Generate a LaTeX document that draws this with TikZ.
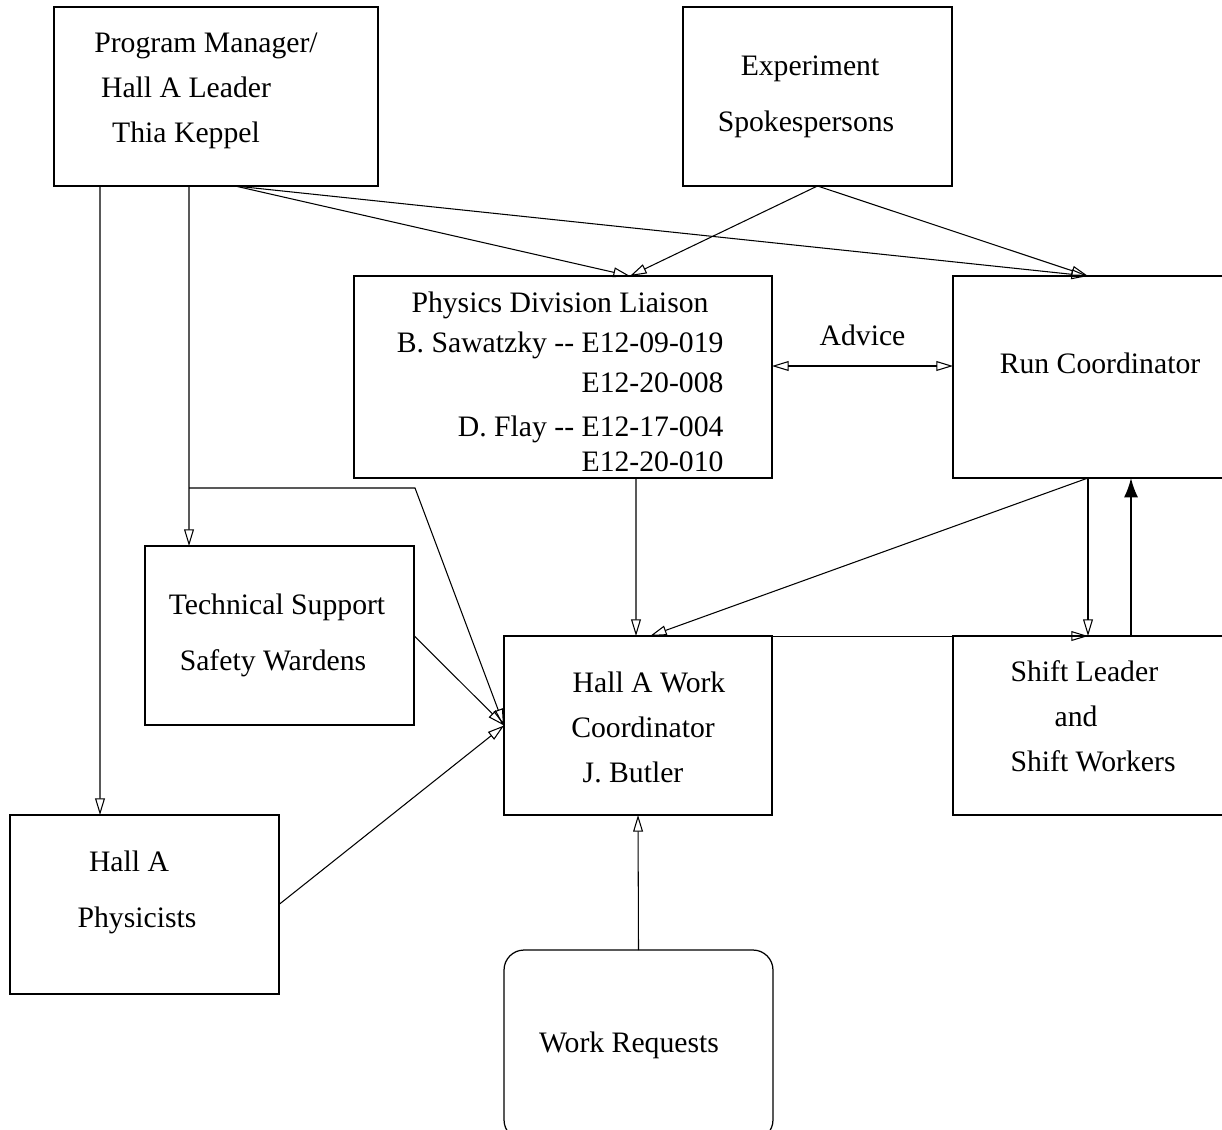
\documentclass[tikz,border=0pt]{standalone}
\usepackage{fontspec}
\setmainfont{Liberation Serif}
\usetikzlibrary{positioning}
\usetikzlibrary{arrows.meta}

\begin{document}
\begin{tikzpicture}[x=0.02cm,y=-0.02cm,font=\fontsize{16.9}{20}\selectfont,line width=0.6pt,
	>={Triangle[open,length=9.5pt,width=5.6pt]},
	box/.style={draw=black,rectangle,outer sep=0pt,inner sep=0pt,line width=0.7pt},
	txt/.style={inner sep=0pt,text height=11.2pt,text depth=0pt}]
	\clip (0,0) rectangle (1222,1129);
	\fill [white] (0,0) rectangle (1222,1129);

	% boxes
	\node [box,minimum width=6.48cm,minimum height=3.58cm] at (216,96.5) (pm) {};
	\node [box,minimum width=5.38cm,minimum height=3.58cm] at (817.5,96.5) (exp) {};
	\node [box,minimum width=8.36cm,minimum height=4.04cm] at (563,377) (liaison) {};
	\node [box,minimum width=5.54cm,minimum height=4.04cm] at (1091.5,377) (runc) {};
	\node [box,minimum width=5.38cm,minimum height=3.58cm] at (279.5,635.5) (tech) {};
	\node [box,minimum width=5.36cm,minimum height=3.58cm] at (638,725.5) (hallwc) {};
	\node [box,minimum width=5.54cm,minimum height=3.58cm] at (1091.5,725.5) (shift) {};
	\node [box,minimum width=5.38cm,minimum height=3.58cm] at (144.5,904.5) (phys) {};
	\node [box,rounded corners=0.4cm,minimum width=5.38cm,minimum height=3.8cm] at (638.5,1045) (workreq) {};

	% texts
	\node [txt] at (206,43) (pm_a) {Program Manager/};
	\node [txt] at (186,88) (pm_b) {Hall A Leader};
	\node [txt] at (186,133) (pm_c) {Thia Keppel};
	\node [txt] at (810,66) (exp_a) {Experiment};
	\node [txt] at (806,122) (exp_b) {Spokespersons};
	\node [txt] at (560,303) (liaison_a) {Physics Division Liaison};
	\node [txt,anchor=east] at (724,343) (liaison_b) {B. Sawatzky -{}- E12-09-019};
	\node [txt,anchor=east] at (724,383) (liaison_c) {E12-20-008};
	\node [txt,anchor=east] at (724,427) (liaison_d) {D. Flay -{}- E12-17-004};
	\node [txt,anchor=east] at (724,462) (liaison_e) {E12-20-010};
	\node [txt] at (1100,364) (runc_a) {Run Coordinator};
	\node [txt] at (277,605) (tech_a) {Technical Support};
	\node [txt] at (273,661) (tech_b) {Safety Wardens};
	\node [txt] at (649,683) (hallwc_a) {Hall A Work};
	\node [txt] at (643,728) (hallwc_b) {Coordinator};
	\node [txt] at (633,773) (hallwc_c) {J. Butler};
	\node [txt,anchor=west] at (1010,672) (shift_a) {Shift Leader};
	\node [txt] at (1076,717) (shift_b) {and};
	\node [txt,anchor=west] at (1010,762) (shift_c) {Shift Workers};
	\node [txt] at (129,862) (phys_a) {Hall A};
	\node [txt] at (137,918) (phys_b) {Physicists};
	\node [txt] at (629,1043) (workreq_a) {Work Requests};

	% connectors
	\draw [->] ([xshift=0.92cm]pm.south west) -- ([xshift=1.8cm]phys.north west);
	\draw [->] ([xshift=2.7cm]pm.south west) -- ([xshift=0.88cm]tech.north west);
	\draw [->] ([xshift=2.7cm]pm.south west) ++(0,302) -- ++(226,0) -- (hallwc.west);
	\draw [->] ([xshift=3.62cm]pm.south west) -- ([xshift=5.52cm]liaison.north west);
	\draw [->] ([xshift=3.62cm]pm.south west) -- ([xshift=2.7cm]runc.north west);
	\draw [->] (exp.south) -- ([xshift=5.52cm]liaison.north west);
	\draw [->] (exp.south) -- ([xshift=2.7cm]runc.north west);
	\draw [<->] ([yshift=0.22cm]liaison.east) -- node[midway,yshift=0.62cm] (advice) {Advice} ([yshift=0.22cm]runc.west);
	\draw [->] ([xshift=5.64cm]liaison.south west) -- ([xshift=2.64cm]hallwc.north west);
	\draw [->] ([xshift=2.7cm]runc.south west) -- ([xshift=2.92cm]hallwc.north west);
	\draw [->] ([xshift=2.7cm]runc.south west) -- ([xshift=2.7cm]shift.north west);
	\draw [->] ([xshift=2.92cm]hallwc.north west) -- ([xshift=2.7cm]shift.north west);
	\draw [-{Latex[length=11pt,width=8pt]},line width=1.1pt] ([xshift=3.56cm]shift.north west) -- ([xshift=3.56cm]runc.south west);
	\draw [->] (tech.east) -- (hallwc.west);
	\draw [->] (phys.east) -- (hallwc.west);
	\draw [->] (workreq.north) -- (hallwc.south);
\end{tikzpicture}
\end{document}
